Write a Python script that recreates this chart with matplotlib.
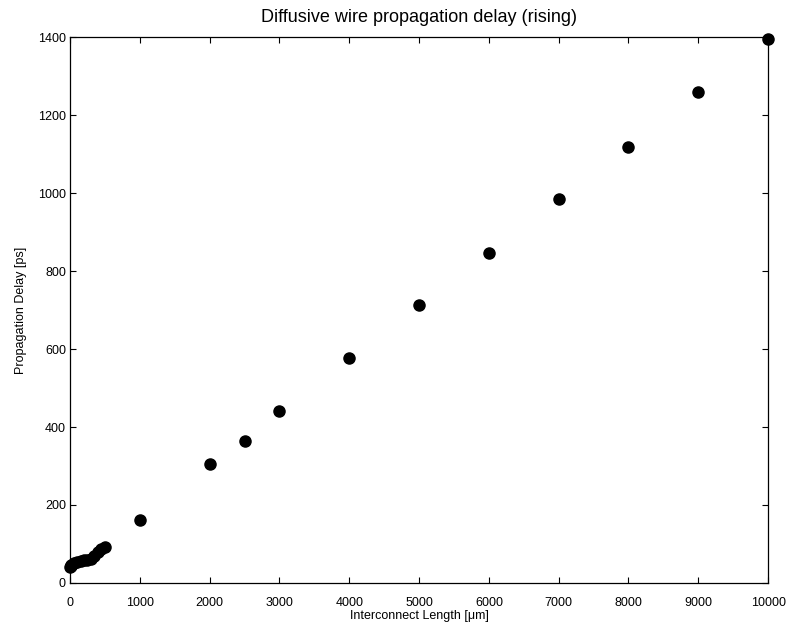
import matplotlib
matplotlib.use("Agg")
import matplotlib.pyplot as plt

length_um = [0, 10, 20, 50, 100, 150, 200, 250, 300, 350, 400, 450, 500,
             1000, 2000, 2500, 3000, 4000, 5000, 6000, 7000, 8000, 9000, 10000]
delay_ps = [40, 44, 47, 50, 54, 56, 58, 60, 62, 70, 80, 87, 92,
            162, 305, 364, 441, 577, 713, 846, 985, 1118, 1259, 1395]

xticks = list(range(0, 10001, 1000))
yticks = list(range(0, 1401, 200))

plt.rcParams['font.family'] = ['Liberation Sans', 'DejaVu Sans']

fig = plt.figure(figsize=(7.87, 6.33), dpi=100)
ax = fig.add_axes([0.089, 0.079, 0.887, 0.8625])
ax.plot(length_um, delay_ps, 'o', color='black', markersize=8, clip_on=False)
ax.set_xlim(0, 10000)
ax.set_ylim(0, 1400)
ax.set_xticks(xticks)
ax.set_yticks(yticks)
ax.tick_params(direction='in', length=4, width=0.8, labelsize=9, top=True, right=True)
ax.tick_params(axis='x', pad=10)
ax.tick_params(axis='y', pad=3)
for s in ax.spines.values():
    s.set_linewidth(0.9)
ax.set_xlabel('Interconnect Length [\u03bcm]', fontsize=9, labelpad=1)
ax.set_ylabel('Propagation Delay [ps]', fontsize=9, labelpad=8)
ax.set_title('Diffusive wire propagation delay (rising)', fontsize=13, pad=11)
fig.savefig('out.png', dpi=100)
